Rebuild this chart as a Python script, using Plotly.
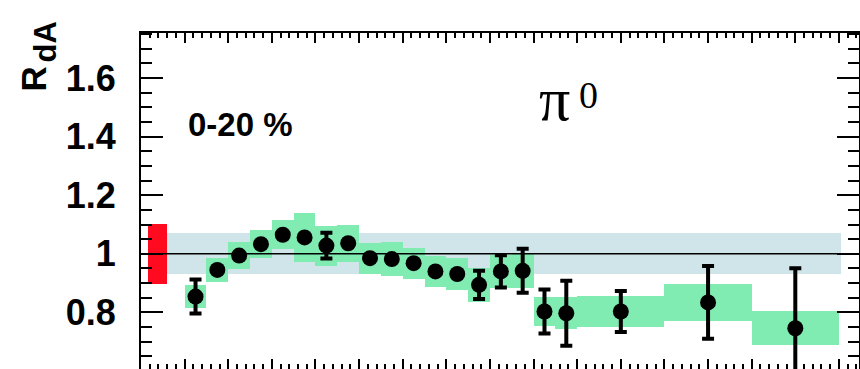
import plotly.graph_objects as go

# pT bin centres and edges (GeV/c)
pt = [1.25, 1.75, 2.25, 2.75, 3.25, 3.75, 4.25, 4.75, 5.25, 5.75, 6.25,
      6.75, 7.25, 7.75, 8.25, 8.75, 9.25, 9.75, 11.0, 13.0, 15.0]
bin_width = [0.5] * 18 + [2.0, 2.0, 2.0]

# nuclear modification factor R_dA, 0-20 % centrality
rda = [0.854, 0.945, 0.994, 1.033, 1.065, 1.056, 1.028, 1.036, 0.985, 0.982, 0.968,
       0.940, 0.931, 0.894, 0.940, 0.942, 0.803, 0.797, 0.803, 0.834, 0.746]

# statistical uncertainties (error bars)
stat_err = [0.058, 0.008, 0.008, 0.008, 0.008, 0.008, 0.044, 0.008, 0.008, 0.008, 0.008,
            0.008, 0.008, 0.048, 0.055, 0.075, 0.075, 0.111, 0.070, 0.124, 0.205]

# point-to-point systematic uncertainties (boxes)
syst_err = [0.038, 0.040, 0.045, 0.048, 0.050, 0.085, 0.068, 0.063, 0.053, 0.057, 0.053,
            0.053, 0.055, 0.057, 0.057, 0.057, 0.051, 0.054, 0.054, 0.063, 0.058]

# global normalisation uncertainties
norm_band = {"x0": 0.6, "x1": 16.05, "err": 0.07}
ncoll_box = {"x0": 0.15, "x1": 0.6, "err": 0.103}

x_range = [0.0, 16.46]
y_range = [0.6068, 1.7538]

GREEN = "#80ecb2"
BLUE = "#cfe5ea"
RED = "#ff0a1e"

fig = go.Figure()

# overall normalisation band
fig.add_trace(go.Bar(
    x=[(norm_band["x0"] + norm_band["x1"]) / 2], y=[2 * norm_band["err"]],
    base=[1 - norm_band["err"]], width=[norm_band["x1"] - norm_band["x0"]],
    marker=dict(color=BLUE, line=dict(width=0)), showlegend=False, hoverinfo="skip"))

# Ncoll uncertainty box
fig.add_trace(go.Bar(
    x=[(ncoll_box["x0"] + ncoll_box["x1"]) / 2], y=[2 * ncoll_box["err"]],
    base=[1 - ncoll_box["err"]], width=[ncoll_box["x1"] - ncoll_box["x0"]],
    marker=dict(color=RED, line=dict(width=0)), showlegend=False, hoverinfo="skip"))

# systematic boxes
fig.add_trace(go.Bar(
    x=pt, y=[2 * s for s in syst_err], base=[v - s for v, s in zip(rda, syst_err)],
    width=bin_width, marker=dict(color=GREEN, line=dict(width=0)),
    showlegend=False, hoverinfo="skip"))

# unity reference line
fig.add_trace(go.Scatter(
    x=x_range, y=[1, 1], mode="lines", line=dict(color="black", width=1.5),
    showlegend=False, hoverinfo="skip"))

# data points with statistical errors
fig.add_trace(go.Scatter(
    x=pt, y=rda, mode="markers",
    marker=dict(color="black", size=16, line=dict(width=0)),
    error_y=dict(type="data", array=stat_err, color="black", thickness=4, width=6),
    showlegend=False))

bold = dict(family="Liberation Sans", color="black", weight="bold")

fig.update_layout(
    width=860, height=369,
    margin=dict(l=141, r=1, t=33, b=0),
    paper_bgcolor="white", plot_bgcolor="white",
    barmode="overlay", bargap=0,
    xaxis=dict(
        range=x_range, showgrid=False, zeroline=False,
        showline=True, linecolor="black", linewidth=2, mirror="allticks",
        ticks="inside", ticklen=10, tickwidth=2, tickcolor="black",
        dtick=1, tick0=0, showticklabels=False,
        minor=dict(ticks="inside", ticklen=5, tickwidth=2, tickcolor="black", dtick=0.2),
    ),
    yaxis=dict(
        range=y_range, showgrid=False, zeroline=False,
        showline=True, linecolor="black", linewidth=2, mirror="allticks",
        ticks="inside", ticklen=22, tickwidth=2, tickcolor="black",
        tickvals=[0.8, 1.0, 1.2, 1.4, 1.6],
        ticktext=["0.8", "1", "1.2", "1.4", "1.6"],
        tickfont=dict(size=36, **bold), ticklabelstandoff=16,
        minor=dict(ticks="inside", ticklen=11, tickwidth=2, tickcolor="black",
                   tickvals=[0.65, 0.7, 0.75, 0.85, 0.9, 0.95, 1.05, 1.1, 1.15,
                             1.25, 1.3, 1.35, 1.45, 1.5, 1.55, 1.65, 1.7, 1.75]),
    ),
)

annotations = [
    dict(text="R", x=-0.1497, y=0.863, xref="paper", yref="paper", textangle=-90,
         font=dict(size=35, **bold)),
    dict(text="dA", x=-0.1327, y=0.974, xref="paper", yref="paper", textangle=-90,
         font=dict(size=31, **bold)),
    dict(text="0-20 %", x=2.27, y=1.44, xref="x", yref="y",
         font=dict(size=33, **bold)),
    dict(text="π", x=9.49, y=1.529, xref="x", yref="y",
         font=dict(family="Liberation Serif", size=62, color="black")),
    dict(text="0", x=10.26, y=1.543, xref="x", yref="y",
         font=dict(family="Liberation Serif", size=38, color="black")),
]
for a in annotations:
    a.update(showarrow=False, xanchor="center", yanchor="middle")
fig.update_layout(annotations=annotations)

fig.write_html("out.html")
